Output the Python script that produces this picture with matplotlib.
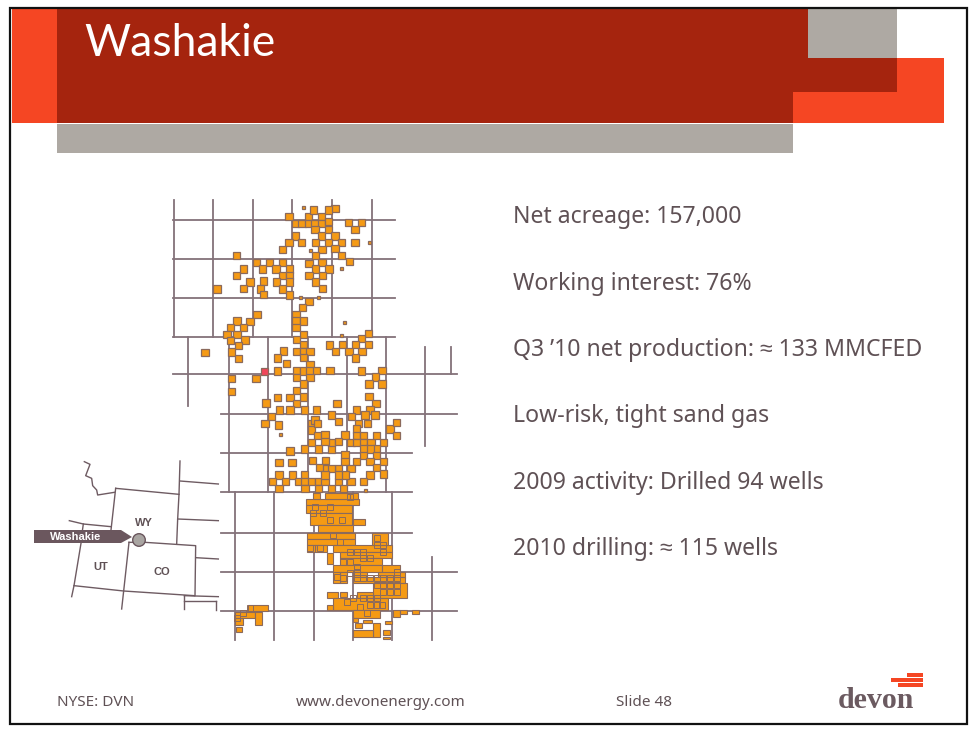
import matplotlib
matplotlib.use("Agg")
import matplotlib.pyplot as plt
from matplotlib.patches import Rectangle, Circle, Polygon

# slide text
title = "Washakie"
bullets = ["Net acreage: 157,000", "Working interest: 76%", "Q3 \u201910 net production: \u2248 133 MMCFED",
           "Low-risk, tight sand gas", "2009 activity: Drilled 94 wells", "2010 drilling: \u2248 115 wells"]
bullet_y = [215, 282, 348, 414, 481, 547]
footer = ["NYSE: DVN", "www.devonenergy.com", "Slide 48"]
footer_x = [57, 296, 616]

# map grid, pixel positions
h_lines = [(173, 395, 220), (173, 395, 259), (173, 395, 298), (173, 395, 337), (173, 457, 374), (221, 457, 414),
           (221, 412, 453), (221, 412, 492), (221, 412, 533), (221, 457, 572), (221, 457, 611)]
v_lines = [(174, 200, 337), (213, 200, 337), (253, 200, 337), (292, 200, 337), (332, 200, 337), (372, 200, 337),
           (188, 337, 406), (229, 337, 492), (268, 337, 492), (308, 337, 492), (347, 337, 492), (386, 337, 492),
           (425, 347, 446), (451, 347, 374), (235, 492, 640), (274, 492, 640), (314, 492, 640), (353, 492, 640),
           (392, 492, 640), (432, 557, 640)]

# lease blocks, (x, y) centres in zoomed crop units
north_leases = [(357, 65), (415, 65), (455, 65), (495, 40), (475, 45), (430, 45), (377, 85), (396, 85), (415, 85),
                (435, 85), (455, 85), (475, 80), (535, 83), (575, 83), (555, 103), (435, 103), (475, 103), (455, 123),
                (495, 123), (377, 123), (436, 143), (475, 143), (515, 143), (555, 143), (395, 143), (357, 143),
                (337, 163), (456, 163), (495, 160), (436, 182), (515, 181), (200, 182), (260, 202), (298, 202),
                (338, 202), (417, 205), (456, 202), (538, 200), (278, 222), (318, 222), (358, 222), (437, 222),
                (477, 222), (220, 222), (200, 241), (338, 241), (358, 241), (417, 241), (457, 241), (280, 258),
                (240, 261), (319, 261), (358, 261), (437, 261), (141, 282), (220, 281), (338, 282), (457, 280),
                (358, 300), (272, 282), (280, 298), (417, 319), (397, 338), (378, 358), (261, 359), (378, 378),
                (400, 378), (201, 378), (240, 379), (181, 398), (221, 398), (378, 398), (201, 418), (171, 418),
                (400, 418), (596, 415), (181, 437), (225, 435), (380, 433), (575, 430), (205, 451), (400, 449),
                (478, 450), (517, 449), (557, 449), (596, 449), (105, 472), (185, 471), (380, 469), (400, 469),
                (420, 469), (497, 469), (537, 469), (576, 469), (340, 468), (322, 489), (205, 491), (400, 488),
                (557, 489), (350, 505), (420, 508), (380, 527), (400, 528), (420, 528), (440, 527), (480, 527),
                (322, 528), (636, 527), (575, 528), (185, 551), (258, 550), (380, 547), (420, 547), (616, 546),
                (400, 567), (597, 567), (636, 567), (185, 589), (380, 587), (323, 607), (360, 607), (400, 606),
                (597, 605), (288, 624), (380, 625), (501, 625), (618, 625), (328, 645), (360, 645), (403, 645),
                (440, 645), (560, 645), (600, 645)]
north_small = [(400, 37), (597, 143), (420, 165), (515, 220), (390, 307), (445, 307), (522, 381), (513, 420)]
red_lease = (283, 529)

south_leases = [(150, 40), (170, 20), (190, 45), (225, 123), (268, 117), (290, 40), (300, 30), (290, 60), (308, 40),
                (308, 77), (290, 98), (310, 117), (330, 75), (350, 117), (370, 35), (350, 15), (410, 20), (430, 40),
                (458, 40), (480, 15), (450, 15), (525, 57), (545, 37), (545, 77), (390, 75), (425, 57), (425, 77),
                (445, 77), (408, 97), (426, 97), (445, 97), (468, 97), (485, 77), (505, 97), (485, 117), (465, 117),
                (445, 117), (445, 137), (390, 135), (390, 155), (350, 97), (370, 95), (330, 95), (485, 137),
                (505, 155), (465, 155), (425, 155), (192, 157), (231, 157), (293, 152), (332, 152), (370, 175),
                (330, 177), (313, 172), (350, 175), (408, 175), (485, 172), (465, 195), (505, 192), (192, 195),
                (232, 195), (268, 195), (172, 215), (211, 215), (250, 215), (270, 215), (290, 215), (310, 215),
                (330, 215), (370, 215), (408, 215), (445, 215), (350, 235), (192, 235), (270, 235), (310, 235),
                (385, 235), (390, 195), (330, 195), (370, 195)]
south_small = [(197, 72), (452, 240)]

# dense acreage, (x0, y0, x1, y1) in the same crop units
dense_blocks = [(272, 268, 432, 285), (330, 248, 405, 268), (295, 248, 315, 268), (405, 248, 430, 268),
                (272, 285, 410, 310), (285, 310, 410, 345), (415, 328, 450, 345), (310, 345, 415, 365),
                (275, 368, 420, 388), (275, 388, 420, 405), (300, 405, 335, 425), (275, 405, 300, 425),
                (355, 405, 530, 425), (335, 428, 355, 462), (375, 425, 530, 445), (375, 445, 500, 465),
                (470, 370, 520, 405), (355, 465, 500, 485), (500, 465, 555, 490), (375, 485, 395, 520),
                (355, 485, 375, 520), (415, 485, 455, 500), (490, 485, 570, 505), (415, 500, 570, 520),
                (475, 520, 575, 563), (425, 545, 475, 563), (335, 545, 370, 565), (375, 545, 395, 562),
                (355, 565, 520, 600), (335, 585, 355, 600), (415, 600, 495, 625), (535, 600, 555, 620),
                (555, 600, 575, 612), (590, 600, 612, 612), (475, 640, 495, 680), (415, 660, 475, 680),
                (505, 660, 525, 675), (505, 680, 525, 688), (510, 632, 530, 642), (420, 640, 440, 655),
                (445, 630, 470, 640), (415, 625, 430, 635), (100, 585, 158, 603), (60, 605, 120, 625),
                (60, 625, 85, 645), (120, 605, 140, 645), (62, 652, 80, 665)]
dense_cells = [(405, 425), (425, 425), (445, 425), (485, 385), (485, 405), (505, 405), (505, 425), (425, 505),
               (445, 505), (465, 505), (485, 505), (505, 505), (525, 505), (545, 505), (485, 525), (505, 525),
               (525, 525), (545, 525), (545, 485), (445, 565), (465, 565), (485, 565), (395, 575), (295, 310),
               (355, 375), (405, 260), (435, 590), (455, 610), (105, 595), (300, 290), (325, 310), (345, 290),
               (380, 330), (385, 455), (405, 455), (425, 470), (445, 445), (465, 445), (405, 490), (425, 485),
               (365, 500), (385, 505), (505, 545), (525, 545), (545, 545), (465, 585), (485, 585), (500, 585),
               (285, 415), (315, 415), (415, 565), (375, 395), (345, 330), (85, 610), (65, 625)]

# inset state map, polylines in crop units
state_lines = [[(272, 100), (462, 118)], [(272, 100), (258, 225)], [(133, 197), (175, 207), (258, 215)],
               [(175, 207), (172, 228)], [(168, 265), (147, 392), (140, 425)], [(312, 262), (296, 408), (290, 462)],
               [(147, 392), (296, 408), (508, 422)], [(312, 262), (360, 262), (512, 272), (510, 422)],
               [(465, 18), (462, 118), (458, 192), (455, 268)], [(465, 78), (580, 87)], [(458, 192), (580, 197)],
               [(512, 308), (580, 312)], [(478, 422), (580, 425)], [(478, 437), (572, 437)], [(478, 422), (478, 462)],
               [(572, 437), (572, 465)],
               [(178, 20), (195, 28), (182, 62), (200, 70), (203, 92), (215, 105), (218, 120), (268, 112)]]
state_labels = ["WY", "UT", "CO"]
state_label_pos = [(358, 205), (227, 335), (412, 352)]

ORANGE = "#f59a14"
BROWN = "#8b6a5c"
GRID = "#84727a"
TEXT = "#5f5155"
BRICK = "#a5240e"
BRIGHT = "#f54623"
STONE = "#aea9a3"
BODY_FONT = ["Noto Sans", "Liberation Sans"]

fig = plt.figure(figsize=(9.8, 7.33), dpi=100)
ax = fig.add_axes([0, 0, 1, 1])
ax.set_xlim(0, 980)
ax.set_ylim(733, 0)
ax.axis("off")


def box(x0, y0, x1, y1, color, z=1):
    ax.add_patch(Rectangle((x0, y0), x1 - x0, y1 - y0, facecolor=color, edgecolor="none", zorder=z))


# header bands
box(12, 9, 57, 123, BRIGHT)
box(897, 58, 944, 123, BRIGHT)
box(793, 92, 944, 123, BRIGHT)
box(57, 9, 793, 123, BRICK)
box(793, 9, 808, 92, BRICK)
box(808, 58, 897, 92, BRICK)
box(808, 9, 897, 58, STONE)
box(57, 124, 793, 153, STONE)
ax.add_patch(Rectangle((10, 8), 957, 716, facecolor="none", edgecolor="#111111", linewidth=1.6, zorder=6))

ax.text(84, 43, title, color="white", fontsize=32, family="Lato", va="center", ha="left")

for label, y in zip(bullets, bullet_y):
    ax.text(513, y + 2, label, color=TEXT, fontsize=16.6, family=BODY_FONT, va="center", ha="left")
for label, x in zip(footer, footer_x):
    ax.text(x, 702, label, color=TEXT, fontsize=11, family="Noto Sans", va="center", ha="left")

# map grid
for x0, x1, y in h_lines:
    ax.plot([x0, x1], [y, y], color=GRID, lw=1.3, zorder=2)
for x, y0, y1 in v_lines:
    ax.plot([x, x], [y0, y1], color=GRID, lw=1.3, zorder=2)


def lease(cx, cy, size, color=ORANGE, z=3):
    ax.add_patch(Rectangle((cx - size / 2, cy - size / 2), size, size, facecolor=color, edgecolor=BROWN,
                           linewidth=0.9, zorder=z))


for x, y in north_leases:
    lease(170 + x / 3, 195 + y / 3, 7.6)
for x, y in north_small:
    lease(170 + x / 3, 195 + y / 3, 3)
lease(170 + red_lease[0] / 3, 195 + red_lease[1] / 3, 7.6, color="#f0465a")
for x, y in south_leases:
    lease(215 + x / 3, 410 + y / 3, 7.6)
for x, y in south_small:
    lease(215 + x / 3, 410 + y / 3, 3)
for x0, y0, x1, y1 in dense_blocks:
    ax.add_patch(Rectangle((215 + x0 / 3, 410 + y0 / 3), (x1 - x0) / 3, (y1 - y0) / 3, facecolor=ORANGE,
                           edgecolor=BROWN, linewidth=0.8, zorder=3))
for x, y in dense_cells:
    ax.add_patch(Rectangle((215 + x / 3 - 3, 410 + y / 3 - 3), 6, 6, facecolor="none", edgecolor=BROWN,
                           linewidth=0.7, zorder=4))

# inset map
for line in state_lines:
    ax.plot([25 + p[0] / 3 for p in line], [455 + p[1] / 3 for p in line], color="#6e5b62", lw=1.0, zorder=2)
for label, (x, y) in zip(state_labels, state_label_pos):
    ax.text(25 + x / 3, 455 + y / 3, label, color=TEXT, fontsize=8, family="Liberation Sans", weight="bold",
            ha="center", va="center", zorder=5)
box(34, 530, 121, 543, "#6b575e", z=4)
ax.add_patch(Polygon([(121, 530), (132, 537), (121, 543)], facecolor="#6b575e", edgecolor="none", zorder=4))
ax.text(76, 537, "Washakie", color="white", fontsize=8, family="Liberation Sans", weight="bold", ha="center",
        va="center", zorder=5)
ax.add_patch(Circle((139, 540), 6.3, facecolor="#a9a5a2", edgecolor="#6b575e", linewidth=1.0, zorder=5))

# logo
box(907, 673, 923, 677, BRIGHT)
box(891, 678, 923, 682, BRIGHT)
box(898, 683, 923, 687, BRIGHT)
ax.text(876, 700, "devon", color="#6b5a60", fontsize=21.5, family="Liberation Serif", weight="bold", ha="center",
        va="center")

fig.savefig("out.png", dpi=100)
